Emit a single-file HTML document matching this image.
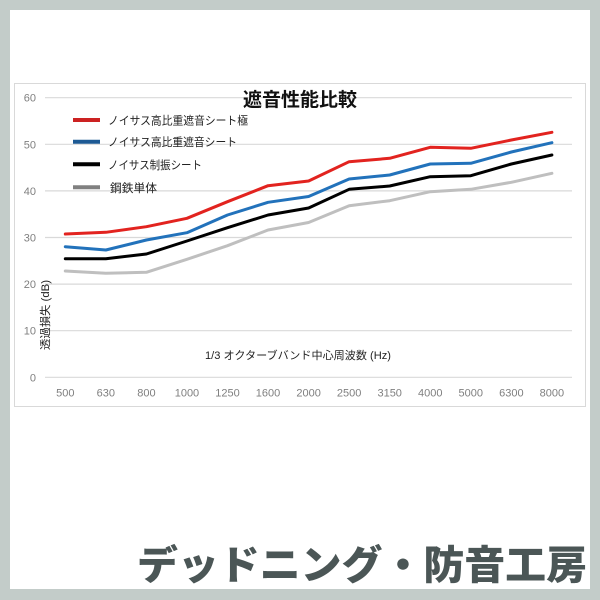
<!DOCTYPE html>
<html>
<head>
<meta charset="utf-8">
<style>
  html,body{margin:0;padding:0;background:#c3ccc9;}
  body{width:600px;height:600px;overflow:hidden;}
  svg{display:block;}
  text{font-family:"Liberation Sans","Noto Sans CJK JP",sans-serif;}
</style>
</head>
<body>
<svg width="600" height="600" viewBox="0 0 600 600" xmlns="http://www.w3.org/2000/svg">
  <rect x="0" y="0" width="600" height="600" fill="#c3ccc9"/>
  <rect x="10" y="10" width="580" height="579" fill="#ffffff"/>
  <!-- chart box -->
  <rect x="14.5" y="83.5" width="571" height="323" fill="#ffffff" stroke="#d9d9d9" stroke-width="1"/>

  <!-- gridlines -->
  <g stroke="#d9d9d9" stroke-width="1.2">
    <line x1="45" y1="97.7" x2="572" y2="97.7"/>
    <line x1="45" y1="144.3" x2="572" y2="144.3"/>
    <line x1="45" y1="190.9" x2="572" y2="190.9"/>
    <line x1="45" y1="237.5" x2="572" y2="237.5"/>
    <line x1="45" y1="284.1" x2="572" y2="284.1"/>
    <line x1="45" y1="330.7" x2="572" y2="330.7"/>
    <line x1="45" y1="377.3" x2="572" y2="377.3"/>
  </g>

  <!-- y tick labels -->
  <g fill="#7f7f7f" font-size="11" text-anchor="end">
    <text x="36" y="101.7">60</text>
    <text x="36" y="148.3">50</text>
    <text x="36" y="194.9">40</text>
    <text x="36" y="241.5">30</text>
    <text x="36" y="288.1">20</text>
    <text x="36" y="334.7">10</text>
    <text x="36" y="381.3">0</text>
  </g>

  <!-- x tick labels -->
  <g fill="#7f7f7f" font-size="11" text-anchor="middle">
    <text x="65.3" y="396.7">500</text>
    <text x="105.85" y="396.7">630</text>
    <text x="146.4" y="396.7">800</text>
    <text x="186.95" y="396.7">1000</text>
    <text x="227.5" y="396.7">1250</text>
    <text x="268.05" y="396.7">1600</text>
    <text x="308.6" y="396.7">2000</text>
    <text x="349.15" y="396.7">2500</text>
    <text x="389.7" y="396.7">3150</text>
    <text x="430.25" y="396.7">4000</text>
    <text x="470.8" y="396.7">5000</text>
    <text x="511.35" y="396.7">6300</text>
    <text x="551.9" y="396.7">8000</text>
  </g>

  <!-- series -->
  <g fill="none" stroke-width="3" stroke-linejoin="round" stroke-linecap="round">
    <polyline stroke="#bfbfbf" points="65.3,271 105.85,273.3 146.4,272.3 186.95,259.3 227.5,245.7 268.05,230 308.6,222.5 349.15,205.7 389.7,200.7 430.25,191.7 470.8,189.3 511.35,182.3 551.9,173.3"/>
    <polyline stroke="#000000" points="65.3,258.7 105.85,258.7 146.4,254 186.95,241 227.5,227.7 268.05,215 308.6,208 349.15,189.3 389.7,186 430.25,176.7 470.8,175.7 511.35,164 551.9,155"/>
    <polyline stroke="#2272bb" points="65.3,246.7 105.85,250 146.4,240 186.95,232.7 227.5,215 268.05,202.3 308.6,196.5 349.15,179 389.7,175 430.25,164 470.8,163.3 511.35,152 551.9,142.7"/>
    <polyline stroke="#e2231f" points="65.3,234 105.85,232.3 146.4,226.7 186.95,218.3 227.5,201.7 268.05,185.7 308.6,181 349.15,161.7 389.7,158.3 430.25,147.3 470.8,148.3 511.35,140 551.9,132.3"/>
  </g>

  <!-- title -->
  <text x="300" y="106" font-size="19" font-weight="bold" fill="#111" text-anchor="middle" textLength="114" lengthAdjust="spacingAndGlyphs">遮音性能比較</text>

  <!-- legend -->
  <g stroke-width="4">
    <line x1="73" y1="120" x2="100" y2="120" stroke="#cc2222"/>
    <line x1="73" y1="141.7" x2="100" y2="141.7" stroke="#1d5a94"/>
    <line x1="73" y1="164.3" x2="100" y2="164.3" stroke="#000000"/>
    <line x1="73" y1="187.3" x2="100" y2="187.3" stroke="#808080"/>
  </g>
  <g font-size="11.5" fill="#222">
    <text x="108" y="124.5" textLength="140" lengthAdjust="spacingAndGlyphs">ノイサス高比重遮音シート極</text>
    <text x="108" y="146.2" textLength="129" lengthAdjust="spacingAndGlyphs">ノイサス高比重遮音シート</text>
    <text x="108" y="168.8" textLength="94" lengthAdjust="spacingAndGlyphs">ノイサス制振シート</text>
    <text x="110" y="191.8" textLength="47" lengthAdjust="spacingAndGlyphs">鋼鉄単体</text>
  </g>

  <!-- axis titles -->
  <text x="298" y="359" font-size="11" fill="#222" text-anchor="middle" textLength="186" lengthAdjust="spacingAndGlyphs">1/3 オクターブバンド中心周波数 (Hz)</text>
  <text transform="translate(49,315) rotate(-90)" font-size="11" fill="#222" text-anchor="middle" textLength="70" lengthAdjust="spacingAndGlyphs">透過損失 (dB)</text>

  <!-- bottom brand text -->
  <text x="137" y="579" font-size="40" font-weight="900" fill="#4b5656" textLength="450" lengthAdjust="spacingAndGlyphs" style='font-family:"Noto Sans CJK JP","Liberation Sans",sans-serif;'>デッドニング・防音工房</text>
</svg>
</body>
</html>
